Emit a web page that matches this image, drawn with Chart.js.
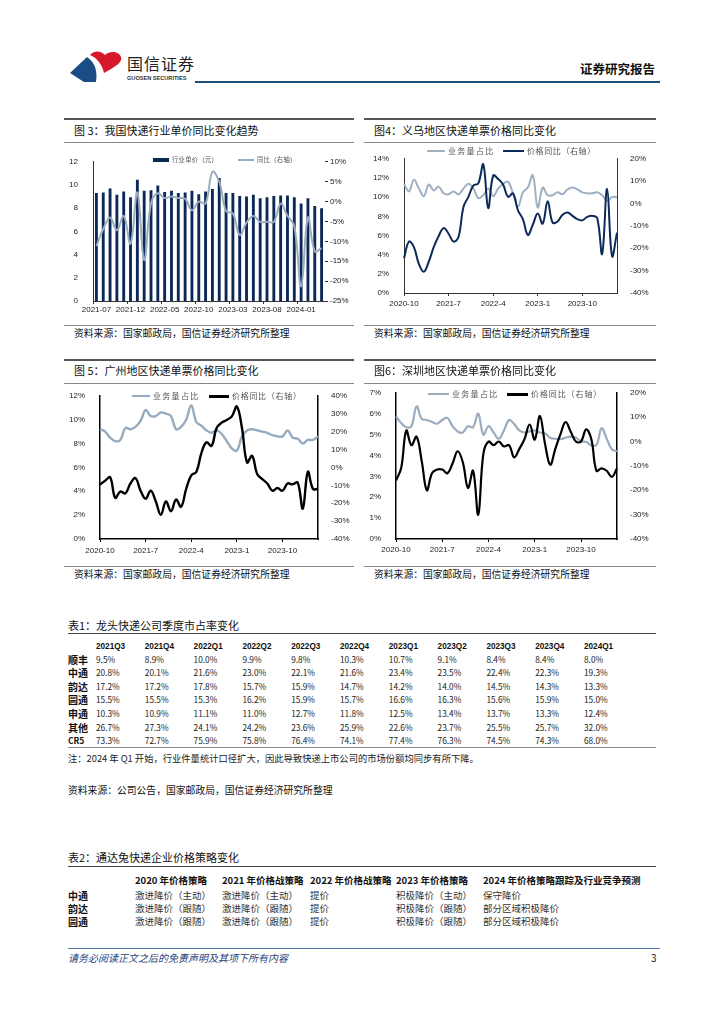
<!DOCTYPE html>
<html lang="zh-CN">
<head>
<meta charset="utf-8">
<title>快递单价与市占率</title>
<script src="https://cdn.jsdelivr.net/npm/chart.js@4.4.1/dist/chart.umd.min.js"></script>
<style>
    html, body { margin: 0; padding: 0; background: #fff; }
    #page {
        position: relative; width: 724px; height: 1024px; overflow: hidden;
        font-family: 'Noto Sans CJK SC', 'Liberation Sans', sans-serif; color: #111;
    }
    .abs { position: absolute; white-space: nowrap; }
    canvas { position: absolute; }
</style>
</head>
<body>
<div id="page">
    <svg class="abs" style="left:68px;top:48px" width="60" height="38" viewBox="0 0 60 38">
        <path d="M2 25 L19 9 C25 13 30 20 28 34 L16 34 Z" fill="#1b4c86"/>
        <path d="M22 7 C27 2 33 3 37 7 C43 2 51 4 53 9 C55 14 47 19 36 25 C34 16 29 10 22 7 Z" fill="#d5182b"/>
    </svg>
    <canvas id="chart-price" width="294" height="165" style="left:63px;top:150px"></canvas>
    <canvas id="chart-yiwu" width="280" height="162" style="left:372px;top:147px"></canvas>
    <canvas id="chart-gz" width="285" height="172" style="left:68px;top:384px"></canvas>
    <canvas id="chart-sz" width="286" height="175" style="left:366px;top:381px"></canvas>
</div>
<script>
// ─── Data ─────────────────────────────────────────────────────────
const fig3Months = ['2021-07','2021-08','2021-09','2021-10','2021-11','2021-12',
    '2022-01','2022-02','2022-03','2022-04','2022-05','2022-06','2022-07','2022-08','2022-09','2022-10','2022-11','2022-12',
    '2023-01','2023-02','2023-03','2023-04','2023-05','2023-06','2023-07','2023-08','2023-09','2023-10','2023-11','2023-12',
    '2024-01','2024-02','2024-03','2024-04'];
const fig3Price = [9.3, 9.35, 9.7, 9.15, 9.45, 8.95, 10.45, 9.5, 9.55, 9.95, 9.4, 9.5, 9.3, 9.35, 9.5, 9.2, 9.45, 9.65,
    10.6, 9.3, 9.3, 9.05, 9.0, 9.15, 8.85, 8.95, 9.05, 9.1, 9.1, 8.95, 8.4, 8.85, 8.2, 8.0];
const fig3Yoy = [-11.2, -6.9, -4.0, -7.2, -3.6, -10.6, 2.3, -14.7, -0.5, 2.1, 0.9, 1.3, 0.9, 0.7, -2.2, 0, -0.5, 7.5,
    5.0, -2.4, -3.0, -8.4, -5.3, -3.6, -5.1, -5.1, -5.1, -0.5, -3.6, -6.1, -21.3, -4.0, -12.5, -11.7];

const cityMonths = ['2020-10','2020-11','2020-12',
    '2021-1','2021-2','2021-3','2021-4','2021-5','2021-6','2021-7','2021-8','2021-9','2021-10','2021-11','2021-12',
    '2022-1','2022-2','2022-3','2022-4','2022-5','2022-6','2022-7','2022-8','2022-9','2022-10','2022-11','2022-12',
    '2023-1','2023-2','2023-3','2023-4','2023-5','2023-6','2023-7','2023-8','2023-9','2023-10','2023-11','2023-12',
    '2024-1','2024-2','2024-3','2024-4','2024-5'];

const yiwuShare = [11.4, 10.6, 11.8, 10.9, 10.1, 11.3, 10.7, 11.1, 10.4, 10.3, 10.6, 10.3, 10.9, 11.4, 10.9, 9.9,
    10.2, 10.9, 10.1, 10.9, 11.4, 11.6, 10.4, 9.0, 10.5, 11.0, 12.3, 8.9, 11.0, 10.2, 10.2, 10.5, 10.3, 10.8,
    11.0, 10.8, 10.5, 10.4, 10.4, 10.5, 10.2, 9.6, 10.0, 10.0];
const yiwuYoy = [-24.5, -17, -19.5, -27, -30.5, -26, -19.5, -14.5, -11, -13.5, -17, -15, -1.5, 3, 8, 9, 17.5, -2,
    12.5, 11, 8.5, 3, 4.5, -3, -7, -14, -9.5, -4.5, -9, 1, -8.5, -8, -5, -4, -5.5, -7, -7.5, -6, -5.5, -6.5,
    -22.5, 6.5, -23.5, -13];

const gzShare = [9.2, 9.0, 8.5, 8.2, 8.3, 9.3, 9.2, 9.4, 9.9, 10.8, 10.3, 10.3, 10.6, 10.5, 10.3, 9.2, 9.4, 10.0,
    11.2, 9.8, 9.5, 9.1, 8.9, 9.1, 8.8, 8.2, 7.6, 7.4, 8.6, 9.1, 9.2, 9.1, 9.0, 8.9, 8.7, 8.6, 8.6, 9.1, 8.5,
    8.4, 8.0, 8.3, 8.3, 8.6];
const gzYoy = [-9.5, -7.5, -5.5, -17, -13.5, -14.5, -9, -6, -13, -17.5, -13, -19, -26.5, -19, -24.5, -18, -22, -12,
    -4.5, -2.5, 8, 14, 12, 22, 25, 26.5, 28.5, 34, 22, 2.8, 6.5, -3.7, -6.5, -9, -13, -11.5, -13, -9, -9.5,
    -8.5, -23, -2.5, -12, -12];

const szShare = [5.87, 5.55, 5.35, 5.4, 6.35, 5.75, 5.7, 5.6, 5.52, 5.7, 5.8, 5.4, 5.15, 5.1, 5.4, 5.35, 6.0, 5.0,
    5.4, 5.1, 4.8, 5.2, 5.7, 5.5, 5.2, 5.1, 5.15, 5.2, 5.1, 5.05, 4.85, 4.8, 4.78, 4.85, 4.9, 4.85, 4.68, 4.65,
    4.48, 4.5, 5.3, 4.8, 4.3, 4.2];
const szYoy = [-16, -11, 4.5, -1.5, 2, -8, -20, -13, -11.5, -11.5, -13, -9, -4, -8.5, -19, -12, -30, -5, 0, -1.5,
    0, -2, -1.5, -6.5, -3, 1, 7, 0.8, 10.5, -1, -9.5, -3, 3, 8, 4, 0, 0, 5, 1, -12, -11, -12, -14.5, -11];

// 表1
const shareQuarters = ['2021Q3','2021Q4','2022Q1','2022Q2','2022Q3','2022Q4','2023Q1','2023Q2','2023Q3','2023Q4','2024Q1'];
const shareSF  = [9.5, 8.9, 10.0, 9.9, 9.8, 10.3, 10.7, 9.1, 8.4, 8.4, 8.0];
const shareZTO = [20.8, 20.1, 21.6, 23.0, 22.1, 21.6, 23.4, 23.5, 22.4, 22.3, 19.3];
const shareYD  = [17.2, 17.2, 17.8, 15.7, 15.9, 14.7, 14.2, 14.0, 14.5, 14.3, 13.3];
const shareYTO = [15.5, 15.5, 15.3, 16.2, 15.9, 15.7, 16.6, 16.3, 15.6, 15.9, 15.0];
const shareSTO = [10.3, 10.9, 11.1, 11.0, 12.7, 11.8, 12.5, 13.4, 13.7, 13.3, 12.4];
const shareOther = [26.7, 27.3, 24.1, 24.2, 23.6, 25.9, 22.6, 23.7, 25.5, 25.7, 32.0];
const shareCR5 = [73.3, 72.7, 75.9, 75.8, 76.4, 74.1, 77.4, 76.3, 74.5, 74.3, 68.0];

// 表2
const strategyYears = ['2020 年价格策略','2021 年价格战策略','2022 年价格战策略','2023 年价格策略','2024 年价格策略跟踪及行业竞争预测'];
const strategyZTO = ['激进降价（主动）','激进降价（主动）','提价','积极降价（主动）','保守降价'];
const strategyYD  = ['激进降价（跟随）','激进降价（跟随）','提价','积极降价（跟随）','部分区域积极降价'];
const strategyYTO = ['激进降价（跟随）','激进降价（跟随）','提价','积极降价（跟随）','部分区域积极降价'];

// ─── Page helpers ─────────────────────────────────────────────────
const page = document.getElementById('page');

function addText(text, x, cy, size, opts = {}) {
    const d = document.createElement('div');
    const lh = Math.round(size * 1.3);
    d.className = 'abs';
    d.textContent = text;
    d.style.left = x + 'px';
    d.style.top = (cy - lh / 2) + 'px';
    d.style.fontSize = size + 'px';
    d.style.lineHeight = lh + 'px';
    if (opts.bold) d.style.fontWeight = 'bold';
    if (opts.color) d.style.color = opts.color;
    if (opts.italic) d.style.fontStyle = 'italic';
    if (opts.spacing) d.style.letterSpacing = opts.spacing + 'px';
    if (opts.family) d.style.fontFamily = opts.family;
    page.appendChild(d);
    return d;
}

function addBox(x, y, w, h, color) {
    const d = document.createElement('div');
    d.className = 'abs';
    Object.assign(d.style, { left: x + 'px', top: y + 'px', width: w + 'px', height: h + 'px', background: color });
    page.appendChild(d);
}

function hline(x1, x2, y, w, color) {
    addBox(x1, y - w / 2, x2 - x1, w, color);
}

// ─── Header ───────────────────────────────────────────────────────
addText('国信证券', 127, 63, 16, { color: '#222', spacing: 1 });
addText('GUOSEN SECURITIES', 127, 78, 5.6, { color: '#333', bold: true, family: 'Liberation Sans' });
addText('证券研究报告', 580, 69, 12.5, { bold: true });
hline(195, 660, 82, 2, '#1f4e7a');

// ─── Figure frames ────────────────────────────────────────────────
function figureFrame(x1, x2, top, title, srcY, underY, titleY) {
    hline(x1, x2, top, 1.5, '#555');
    addText(title, x1 + 10, titleY, 11);
    hline(x1, x2, underY, 1, '#888');
    hline(x1, x2, srcY, 1, '#888');
    addText('资料来源：国家邮政局，国信证券经济研究所整理', x1 + 10, srcY + 8, 9.8);
}
figureFrame(64, 354, 119, '图 3：我国快递行业单价同比变化趋势', 325, 142, 130);
figureFrame(364, 656, 119, '图4：义乌地区快递单票价格同比变化', 325, 142, 130);
figureFrame(64, 354, 360, '图 5：广州地区快递单票价格同比变化', 566, 383, 370);
figureFrame(364, 656, 360, '图6：深圳地区快递单票价格同比变化', 566, 383, 370);

// Legends (HTML, sitting inside the plot top like the original)
function legendItem(x, cy, w, h, color, text, size, spacing) {
    addBox(x, cy - h / 2, w, h, color);
    addText(text, x + w + 3, cy, size, { color: '#555', spacing: spacing });
}
legendItem(153, 160, 16, 4.5, '#0b2856', '行业单价（元）', 6.3, 0.3);
legendItem(238, 160, 16, 2, '#9badc0', '同比（右轴）', 6.3, 0.3);
legendItem(427, 151, 18, 2.5, '#9fb0c2', '业务量占比', 8, 1.3);
legendItem(503, 151, 21, 2.5, '#0c2a5a', '价格同比（右轴）', 8, 0.6);
legendItem(132, 396, 18, 2.5, '#97abbf', '业务量占比', 8, 1.3);
legendItem(209, 396, 20, 3, '#000', '价格同比（右轴）', 8, 0.7);
legendItem(428, 394, 21, 2.5, '#9aacbd', '业务量占比', 8, 1.3);
legendItem(507, 394, 21, 3, '#000', '价格同比（右轴）', 8, 0.9);

// ─── Charts ───────────────────────────────────────────────────────
const tickFont = { family: "'Liberation Sans', Arial, sans-serif", size: 8 };
const tickColor = '#222';

function everyNth(labels, step) {
    return (value, i) => (i % step === 0 ? labels[i] : '');
}

function baseOptions(top) {
    return {
        responsive: false,
        animation: false,
        layout: { padding: { top: top, left: 0, right: 0, bottom: 0 }, autoPadding: false },
        plugins: { legend: { display: false }, tooltip: { enabled: false } },
    };
}

function xScale(labels, step, height, pad, offset, axisColor, axisWidth) {
    return {
        offset: offset,
        grid: {
            display: true, drawOnChartArea: false, drawTicks: true, tickLength: 3,
            color: ctx => (ctx.index % step === 0 ? axisColor : 'rgba(0,0,0,0)'),
        },
        border: { display: true, color: axisColor, width: axisWidth },
        ticks: { autoSkip: false, maxRotation: 0, minRotation: 0, padding: pad, font: tickFont, color: tickColor,
            callback: everyNth(labels, step) },
        afterFit: s => { s.height = height; },
    };
}

function yScale(pos, min, max, step, width, pad, fmt, border, axisColor, axisWidth, ticks) {
    return {
        position: pos, min: min, max: max,
        grid: ticks
            ? { display: true, drawOnChartArea: false, drawTicks: true, tickLength: 3, color: axisColor }
            : { display: false },
        border: { display: border, color: axisColor, width: axisWidth },
        ticks: { stepSize: step, padding: pad, font: tickFont, color: tickColor, callback: fmt },
        afterFit: s => { s.width = width; },
    };
}

const pct = v => v + '%';

// 图3
new Chart(document.getElementById('chart-price'), {
    type: 'bar',
    data: {
        labels: fig3Months,
        datasets: [
            { type: 'line', label: '同比（右轴）', data: fig3Yoy, yAxisID: 'y1', borderColor: '#9badc0',
              borderWidth: 2, pointRadius: 0, tension: 0.4, order: 0 },
            { type: 'bar', label: '行业单价（元）', data: fig3Price, yAxisID: 'y', backgroundColor: '#0b2856',
              barPercentage: 0.42, categoryPercentage: 1, order: 1 },
        ],
    },
    options: {
        ...baseOptions(10),
        scales: {
            x: xScale(fig3Months, 5, 14, 1, true, '#333', 1),
            y: yScale('left', 0, 12, 2, 30, 7, v => v, true, '#333', 1, false),
            y1: yScale('right', -25, 10, 5, 32, 2, pct, false, '#333', 1, true),
        },
    },
});

function cityChart(id, share, yoy, shareColor, yoyColor, lineW, leftMax, leftStep, rightMin, rightMax,
                   wl, wr, hx, xPad, axisColor, axisWidth) {
    new Chart(document.getElementById(id), {
        type: 'line',
        data: {
            labels: cityMonths,
            datasets: [
                { label: '价格同比（右轴）', data: yoy, yAxisID: 'y1', borderColor: yoyColor, borderWidth: lineW,
                  pointRadius: 0, tension: 0.4, order: 1 },
                { label: '业务量占比', data: share, yAxisID: 'y', borderColor: shareColor, borderWidth: lineW,
                  pointRadius: 0, tension: 0.4, order: 2 },
            ],
        },
        options: {
            ...baseOptions(10),
            scales: {
                x: xScale(cityMonths, 9, hx, xPad, false, axisColor, axisWidth),
                y: yScale('left', 0, leftMax, leftStep, wl, 7, pct, true, axisColor, axisWidth, false),
                y1: yScale('right', rightMin, rightMax, 10, wr, 5, pct, true, axisColor, axisWidth, false),
            },
        },
    });
}

cityChart('chart-yiwu', yiwuShare, yiwuYoy, '#9fb0c2', '#0c2a5a', 2, 14, 2, -40, 20, 32, 35, 16, 3, '#333', 1);
cityChart('chart-gz', gzShare, gzYoy, '#97abbf', '#000', 2.4, 12, 2, -40, 40, 32, 35, 17, 4, '#000', 1.5);
cityChart('chart-sz', szShare, szYoy, '#9aacbd', '#000', 2.2, 7, 1, -40, 20, 30, 35, 17, 3, '#000', 1.5);

// ─── 表1 ──────────────────────────────────────────────────────────
addText('表1：龙头快递公司季度市占率变化', 68, 625, 11);
hline(68, 656, 633, 1, '#444');
const colX = i => 96 + i * 48.8;
shareQuarters.forEach((q, i) => addText(q, colX(i), 646, 8.2, { bold: true, family: 'Liberation Sans' }));
const shareRows = [
    ['顺丰', shareSF], ['中通', shareZTO], ['韵达', shareYD], ['圆通', shareYTO],
    ['申通', shareSTO], ['其他', shareOther], ['CR5', shareCR5],
];
shareRows.forEach(([name, vals], r) => {
    const y = 659 + r * 13.6;
    addText(name, 68, y, name === 'CR5' ? 8.5 : 10, { bold: true });
    vals.forEach((v, i) => addText(v.toFixed(1) + '%', colX(i), y, 8.3, { color: '#222' }));
});
hline(68, 656, 747, 1, '#888');
addText('注：2024 年 Q1 开始，行业件量统计口径扩大，因此导致快递上市公司的市场份额均同步有所下降。', 68, 758, 9.3, { color: '#222' });
addText('资料来源：公司公告，国家邮政局，国信证券经济研究所整理', 68, 790, 9.8);

// ─── 表2 ──────────────────────────────────────────────────────────
addText('表2：通达兔快递企业价格策略变化', 68, 857, 11);
hline(68, 656, 866, 1, '#444');
const stratX = [135, 222, 310, 396, 483];
strategyYears.forEach((t, i) => addText(t, stratX[i], 880, 9.5, { bold: true }));
[['中通', strategyZTO], ['韵达', strategyYD], ['圆通', strategyYTO]].forEach(([name, vals], r) => {
    const y = 895 + r * 13;
    addText(name, 68, y, 10, { bold: true });
    vals.forEach((t, i) => addText(t, stratX[i], y, 9.5, { color: '#333' }));
});

// ─── Footer ───────────────────────────────────────────────────────
hline(68, 660, 948, 1, '#4a78ad');
addText('请务必阅读正文之后的免责声明及其项下所有内容', 68, 957, 10, { italic: true, color: '#1f3f80' });
addText('3', 651, 957, 10);
</script>
</body>
</html>
